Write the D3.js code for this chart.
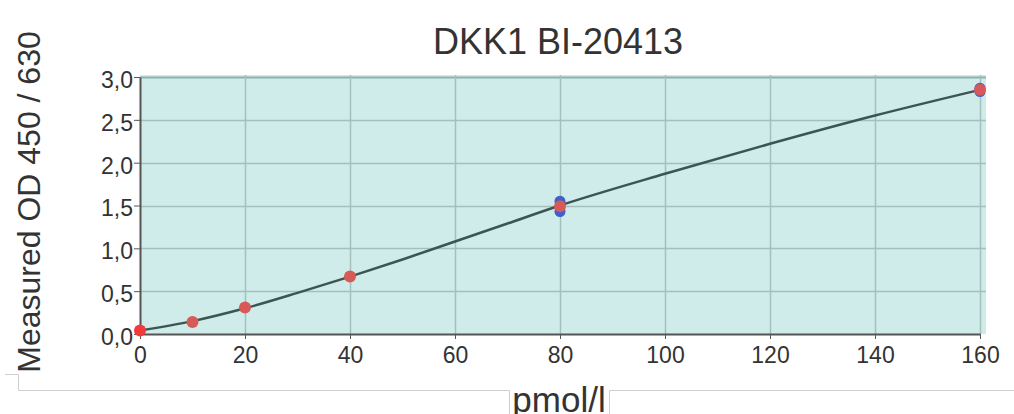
<!DOCTYPE html>
<html>
<head>
<meta charset="utf-8">
<script src="https://cdn.jsdelivr.net/npm/d3@7"></script>
<style>
  body { margin: 0; background: #fff; }
  svg text { font-family: "Liberation Sans", Arial, sans-serif; }
</style>
</head>
<body>
<svg id="chart" width="1014" height="414"></svg>
<script>
// standards (pmol/l) and measured OD
const concentrations = [0, 10, 20, 40, 80, 160]
const meanOD = [0.04, 0.14, 0.31, 0.67, 1.49, 2.85]
// replicate wells that peek out behind the mean markers
const replicateX = [80, 80, 160, 160]
const replicateOD = [1.55, 1.43, 2.87, 2.83]
// fitted curve as seen in the picture
const curveX = [0, 10, 20, 30, 40, 50, 60, 70, 80, 100, 120, 140, 160]
const curveOD = [0.04, 0.15, 0.30, 0.48, 0.67, 0.87, 1.08, 1.29, 1.50, 1.87, 2.22, 2.55, 2.85]

const xTicks = [0, 20, 40, 60, 80, 100, 120, 140, 160]
const yTicks = [0, 0.5, 1.0, 1.5, 2.0, 2.5, 3.0]

const svg = d3.select("#chart")
const plotLeft = 140, plotRight = 980, plotTop = 77, plotBottom = 334

const x = d3.scaleLinear().domain([0, 160]).range([plotLeft, plotRight])
const y = d3.scaleLinear().domain([0, 3]).range([plotBottom, plotTop])

// frame bits around the chart
svg.append("path")
    .attr("d", "M5,374.5H18.5V390.5H509.5V414 M609.5,414V390.5H1014")
    .attr("fill", "none")
    .attr("stroke", "#cfcfcf")
    .attr("stroke-width", 1)

// plot background
svg.append("rect")
    .attr("x", plotLeft)
    .attr("y", plotTop - 2)
    .attr("width", plotRight - plotLeft + 6)
    .attr("height", plotBottom - plotTop + 2)
    .attr("fill", "#d0ecea")

// grid
svg.append("g").selectAll("line")
    .data(yTicks.slice(1))
    .enter().append("line")
    .attr("x1", plotLeft).attr("x2", plotRight + 6)
    .attr("y1", d => Math.round(y(d)) + 0.5)
    .attr("y2", d => Math.round(y(d)) + 0.5)
    .attr("stroke", d => d === 3 ? "#8fb0ab" : "#a3c0bc")
    .attr("stroke-width", d => d === 3 ? 2 : 1.5)

svg.append("g").selectAll("line")
    .data(xTicks.slice(1))
    .enter().append("line")
    .attr("x1", d => Math.round(x(d)) + 0.5)
    .attr("x2", d => Math.round(x(d)) + 0.5)
    .attr("y1", plotTop - 2).attr("y2", plotBottom)
    .attr("stroke", "#a3c0bc")
    .attr("stroke-width", 1.5)

// axes
const xAxis = d3.axisBottom(x).tickValues(xTicks).tickSize(5).tickSizeOuter(0)
    .tickFormat(d3.format("d"))
const yAxis = d3.axisLeft(y).tickValues(yTicks).tickSize(6).tickSizeOuter(0)
    .tickFormat(d => d3.format(".1f")(d).replace(".", ","))

const gx = svg.append("g")
    .attr("transform", `translate(0,${plotBottom})`)
    .call(xAxis)
gx.select(".domain").attr("stroke", "#555").attr("stroke-width", 2)
gx.selectAll(".tick line").attr("stroke", "#555")
gx.selectAll("text")
    .attr("fill", "#333")
    .attr("font-size", 23)
    .attr("y", 13)

const gy = svg.append("g")
    .attr("transform", `translate(${plotLeft},0)`)
    .call(yAxis)
gy.select(".domain").attr("stroke", "#555").attr("stroke-width", 2)
gy.selectAll(".tick line").attr("stroke", "#555")
gy.selectAll("text")
    .attr("fill", "#333")
    .attr("font-size", 23)
    .attr("x", -7)
    .attr("dy", "0.45em")

// fitted curve
const line = d3.line()
    .x((d, i) => x(curveX[i]))
    .y(d => y(d))
    .curve(d3.curveMonotoneX)

svg.append("path")
    .datum(curveOD)
    .attr("d", line)
    .attr("fill", "none")
    .attr("stroke", "#3b5553")
    .attr("stroke-width", 2.5)

// replicates (blue) then means (red)
svg.append("g").selectAll("circle")
    .data(replicateOD)
    .enter().append("circle")
    .attr("cx", (d, i) => x(replicateX[i]))
    .attr("cy", d => y(d))
    .attr("r", 5.5)
    .attr("fill", "#3f5fc9")

svg.append("g").selectAll("circle")
    .data(meanOD)
    .enter().append("circle")
    .attr("cx", (d, i) => x(concentrations[i]))
    .attr("cy", d => y(d))
    .attr("r", 6)
    .attr("fill", (d, i) => i === 0 ? "#f23a3a" : "#d65a58")

// titles
svg.append("text")
    .attr("x", 558).attr("y", 54)
    .attr("text-anchor", "middle")
    .attr("font-size", 36)
    .attr("fill", "#333")
    .text("DKK1 BI-20413")

svg.append("text")
    .attr("transform", "translate(40,202) rotate(-90)")
    .attr("text-anchor", "middle")
    .attr("font-size", 32)
    .attr("fill", "#333")
    .text("Measured OD 450 / 630")

svg.append("text")
    .attr("x", 559).attr("y", 412)
    .attr("text-anchor", "middle")
    .attr("font-size", 35)
    .attr("fill", "#333")
    .text("pmol/l")
</script>
</body>
</html>
